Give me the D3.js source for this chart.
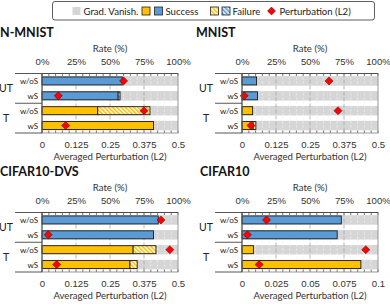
<!DOCTYPE html>
<html lang="en">
<head>
<meta charset="UTF-8">
<title>Attack results</title>
<style>
  body { margin: 0; background: #fff; }
  svg { font-family: Lato, "Open Sans", sans-serif; }
</style>
</head>
<body>
<svg></svg>
<script src="https://d3js.org/d3.v7.min.js"></script>
<script>
let width = 390, height = 304;

// data
const datasets = ["N-MNIST", "MNIST", "CIFAR10-DVS", "CIFAR10"];
const groups = ["UT", "T"];
const settings = ["w/oS", "wS", "w/oS", "wS"];
const rowGroup = ["UT", "UT", "T", "T"];
const successRate = [
  [59, 56, 41, 82],
  [10.7, 11.4, 7.8, 8.2],
  [85.5, 82, 67, 64.7],
  [73, 70, 8.4, 87.4]
];
const failureRate = [
  [0, 1.4, 38.4, 0],
  [0, 0, 0, 2],
  [0, 0, 16.8, 5.3],
  [0, 0, 0, 0]
];
const perturbation = [
  [0.30, 0.06, 0.375, 0.087],
  [0.32, 0.008, 0.353, 0.033],
  [0.4375, 0.023, 0.47, 0.054],
  [0.018, 0.004, 0.091, 0.0126]
];
const perturbMax = [0.5, 0.5, 0.5, 0.1];
const rateTicks = [0, 25, 50, 75, 100];

const colors = { vanish: "#d6d6d6", ut: "#5b9bd5", t: "#ffc000", marker: "#ff0000" };

let svg = d3.select("svg").attr("width", width).attr("height", height);

// hatch patterns for failure
let defs = svg.append("defs");
[["hatchT", colors.t], ["hatchUT", colors.ut]].forEach(([id, c]) => {
  let p = defs.append("pattern").attr("id", id)
    .attr("patternUnits", "userSpaceOnUse")
    .attr("width", 3).attr("height", 3)
    .attr("patternTransform", "rotate(-45)");
  p.append("rect").attr("width", 3).attr("height", 3).attr("fill", "#fff");
  p.append("rect").attr("width", 1.6).attr("height", 3).attr("fill", c);
});

// legend
let lg = svg.append("g");
lg.append("rect").attr("x", 52.5).attr("y", 1.5).attr("width", 322).attr("height", 18.5)
  .attr("rx", 2.5).attr("fill", "#fff").attr("stroke", "#333").attr("stroke-width", 0.8);
const legendSwatches = [
  { x: 72.5, fill: colors.vanish, stroke: "none" },
  { x: 142, fill: colors.t, stroke: "#222" },
  { x: 154.5, fill: colors.ut, stroke: "#222" },
  { x: 210.5, fill: "url(#hatchT)", stroke: "#222" },
  { x: 222, fill: "url(#hatchUT)", stroke: "#222" }
];
legendSwatches.forEach(s => {
  lg.append("rect").attr("x", s.x).attr("y", 7).attr("width", 8).attr("height", 8)
    .attr("fill", s.fill).attr("stroke", s.stroke).attr("stroke-width", 0.8);
});
lg.append("path").attr("d", d3.symbol(d3.symbolDiamond2, 40)())
  .attr("transform", "translate(271.5,11)")
  .attr("fill", colors.marker).attr("stroke", "#400").attr("stroke-width", 0.5);
[["Grad. Vanish.", 83.5], ["Success", 165.5], ["Failure", 232.5], ["Perturbation (L2)", 279.5]]
  .forEach(([t, x]) => {
    lg.append("text").attr("x", x).attr("y", 14.5).attr("font-size", 9.6)
      .attr("fill", "#222").text(t);
  });

// panels
const panelX = [0, 200, 0, 200];
const panelY = [0, 0, 139, 139];
const titleX = [0, 196, 0, 200];
const plotL = 42, plotR = 178, plotT = 73.5, plotB = 133;

datasets.forEach((name, k) => {
  let g = svg.append("g").attr("transform", `translate(${panelX[k]},${panelY[k]})`);
  let xr = d3.scaleLinear().domain([0, 100]).range([plotL, plotR]);
  let xp = d3.scaleLinear().domain([0, perturbMax[k]]).range([plotL, plotR]);
  let y = d3.scaleBand().domain(d3.range(4)).range([plotT, plotB]);
  let bh = 8, gh = 9.5;

  g.append("text").attr("x", titleX[k] - panelX[k]).attr("y", 37)
    .attr("font-size", 12.5).attr("font-weight", "bold").attr("fill", "#111").text(name);
  g.append("text").attr("x", (plotL + plotR) / 2).attr("y", 51.5).attr("text-anchor", "middle")
    .attr("font-size", 9.6).attr("fill", "#333").text("Rate (%)");
  g.append("text").attr("x", (plotL + plotR) / 2).attr("y", 160).attr("text-anchor", "middle")
    .attr("font-size", 9.6).attr("fill", "#333").text("Averaged Perturbation (L2)");

  // top axis (rate) labels
  let top = g.append("g").attr("transform", `translate(0,${plotT})`)
    .call(d3.axisTop(xr).tickValues(rateTicks).tickSize(0).tickPadding(9).tickFormat(d => d + "%"));
  top.select(".domain").remove();
  top.selectAll("text").attr("font-size", 9.6).attr("fill", "#333").attr("font-family", null);

  // bottom axis (perturbation) labels
  let pt = d3.range(5).map(i => perturbMax[k] * i / 4);
  let bot = g.append("g").attr("transform", `translate(0,${plotB})`)
    .call(d3.axisBottom(xp).tickValues(pt).tickSize(0).tickPadding(8).tickFormat(d3.format("~g")));
  bot.select(".domain").remove();
  bot.selectAll("text").attr("font-size", 9.6).attr("fill", "#333").attr("font-family", null);

  // gradient vanish band (full width behind)
  g.selectAll(".bg").data(d3.range(4)).join("rect")
    .attr("x", xr(0)).attr("width", xr(100) - xr(0))
    .attr("y", i => y(i) + y.bandwidth() / 2 - gh / 2).attr("height", gh)
    .attr("fill", colors.vanish);

  // minor grid every 5%
  let minor = d3.range(5, 100, 5).filter(v => v % 25 !== 0);
  g.selectAll(".mg").data(minor).join("line")
    .attr("x1", d => xr(d)).attr("x2", d => xr(d)).attr("y1", plotT).attr("y2", plotB)
    .attr("stroke", "#f2f2f2").attr("stroke-width", 0.8).attr("stroke-dasharray", "2,2");
  // major grid
  g.selectAll(".Mg").data([25, 50, 75]).join("line")
    .attr("x1", d => xr(d)).attr("x2", d => xr(d)).attr("y1", plotT).attr("y2", plotB)
    .attr("stroke", "#a6a6a6").attr("stroke-width", 0.8).attr("stroke-dasharray", "4,2");

  // inside ticks, top and bottom
  let tk = d3.range(0, 101, 5);
  g.selectAll(".tt").data(tk).join("line")
    .attr("x1", d => xr(d)).attr("x2", d => xr(d)).attr("y1", plotT).attr("y2", plotT + 2.5)
    .attr("stroke", "#555").attr("stroke-width", 0.8);
  g.selectAll(".tb").data(tk).join("line")
    .attr("x1", d => xr(d)).attr("x2", d => xr(d)).attr("y1", plotB).attr("y2", plotB - 2.5)
    .attr("stroke", "#555").attr("stroke-width", 0.8);

  // success bars
  g.selectAll(".sb").data(d3.range(4)).join("rect")
    .attr("x", xr(0)).attr("width", i => xr(successRate[k][i]) - xr(0))
    .attr("y", i => y(i) + y.bandwidth() / 2 - bh / 2).attr("height", bh)
    .attr("fill", i => rowGroup[i] === "UT" ? colors.ut : colors.t)
    .attr("stroke", "#1a1a1a").attr("stroke-width", 0.9);
  // failure bars
  g.selectAll(".fb").data(d3.range(4).filter(i => failureRate[k][i] > 0)).join("rect")
    .attr("x", i => xr(successRate[k][i]))
    .attr("width", i => xr(successRate[k][i] + failureRate[k][i]) - xr(successRate[k][i]))
    .attr("y", i => y(i) + y.bandwidth() / 2 - bh / 2).attr("height", bh)
    .attr("fill", i => rowGroup[i] === "UT" ? "url(#hatchUT)" : "url(#hatchT)")
    .attr("stroke", "#1a1a1a").attr("stroke-width", 0.9);

  // perturbation markers
  g.selectAll(".mk").data(d3.range(4)).join("path")
    .attr("d", d3.symbol(d3.symbolDiamond2, 42)())
    .attr("transform", i => `translate(${xp(perturbation[k][i])},${y(i) + y.bandwidth() / 2})`)
    .attr("fill", colors.marker).attr("stroke", "#500").attr("stroke-width", 0.5);

  // frame
  g.append("rect").attr("x", plotL).attr("y", plotT).attr("width", plotR - plotL).attr("height", plotB - plotT)
    .attr("fill", "none").attr("stroke", "#7f7f7f").attr("stroke-width", 0.8);
  [plotT, (plotT + plotB) / 2, plotB].forEach(yy => {
    g.append("line").attr("x1", 15).attr("x2", plotL).attr("y1", yy).attr("y2", yy)
      .attr("stroke", "#444").attr("stroke-width", 0.9);
  });
  g.append("line").attr("x1", plotL).attr("x2", plotR).attr("y1", plotT).attr("y2", plotT)
    .attr("stroke", "#444").attr("stroke-width", 0.9);
  g.append("line").attr("x1", plotL).attr("x2", plotL).attr("y1", plotT).attr("y2", plotB)
    .attr("stroke", "#444").attr("stroke-width", 0.9);

  // row labels
  g.selectAll(".rl").data(d3.range(4)).join("text")
    .attr("x", plotL - 4).attr("y", i => y(i) + y.bandwidth() / 2 + 3)
    .attr("text-anchor", "end").attr("font-size", 8).attr("fill", "#222")
    .text(i => settings[i]);
  groups.forEach((gname, j) => {
    g.append("text").attr("x", 6).attr("y", plotT + (plotB - plotT) * (j * 2 + 1) / 4 + 3.5)
      .attr("text-anchor", "middle").attr("font-size", 10.5).attr("fill", "#222").text(gname);
  });
});
</script>
</body>
</html>
